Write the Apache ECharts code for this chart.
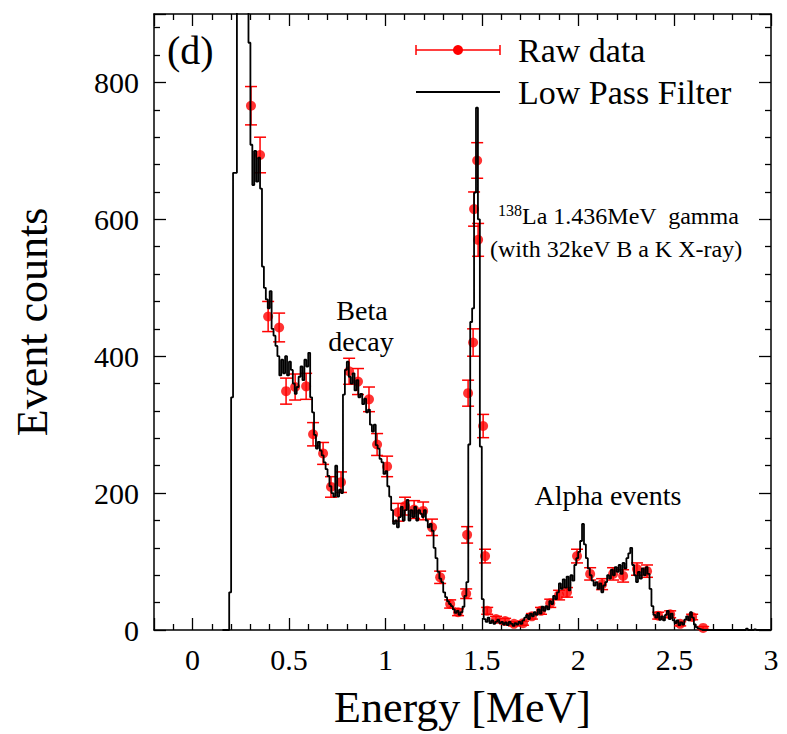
<!DOCTYPE html>
<html><head><meta charset="utf-8">
<script src="https://cdn.jsdelivr.net/npm/echarts@6/dist/echarts.min.js"></script>
<style>html,body{margin:0;padding:0;background:#fff}#c{width:787px;height:734px}</style>
</head><body><div id="c"></div>
<script>
// Low pass filter histogram: first bin lower edge and bin width (MeV)
const histStart = 0.15;
const binWidth = 0.01;
const filterCounts = [
  0,0,0,0,55,
  340,668,668,1000,1000,1000,1000,1000,1000,858,
  709,650,700,655,690,645,531,500,483,470,
  495,440,430,415,400,372,395,375,400,372,
  392,380,360,345,355,370,385,365,395,385,
  405,340,318,285,265,275,262,255,245,235,
  225,210,200,195,240,195,205,200,344,380,
  392,370,360,375,350,365,340,345,330,338,
  318,322,300,290,300,270,265,250,245,228,
  232,210,195,175,155,160,150,165,180,160,
  175,190,160,175,165,180,160,175,170,165,
  175,160,150,155,145,120,105,85,75,70,
  55,48,42,38,35,30,25,28,22,26,
  34,50,70,271,450,470,639,763,600,268,
  45,16,12,18,10,14,9,12,15,10,
  12,8,11,7,12,9,6,10,8,12,
  9,14,18,22,16,24,20,26,22,30,
  24,34,28,35,30,42,38,50,45,55,
  68,60,74,62,78,58,80,72,95,105,
  114,130,155,125,105,90,80,72,65,70,
  60,68,55,65,70,80,75,88,80,92,
  85,95,82,98,90,105,112,120,95,80,
  70,85,75,90,80,92,82,60,35,22,
  18,25,15,20,14,22,28,16,24,14,
  10,14,7,11,8,15,20,14,26,18,
  8,4,2,1,0,0,0,0,0,0,
  0,0,0,0,0,0,0,0,0,0,
  0,0,0,0,0,0,0,2,0,0,
  0,1,0,0,0,0,0,0,0,0
];

// Raw data points
const rawEnergy = [0.303,0.350,0.392,0.449,0.485,0.532,0.589,0.625,0.677,0.718,0.770,0.812,0.858,0.915,0.957,1.009,1.066,1.102,1.149,1.196,1.242,1.284,1.336,1.377,1.419,1.424,1.429,1.455,1.460,1.476,1.481,1.507,1.517,1.528,1.574,1.621,1.667,1.714,1.760,1.807,1.855,1.901,1.942,1.994,2.062,2.124,2.181,2.233,2.305,2.357,2.415,2.477,2.529,2.591,2.648];
const rawCounts = [766,694,458,442,349,355,356,286,258,209,216,378,363,337,271,239,172,181,176,174,150,77,38,26,53,139,346,420,615,686,570,298,108,28,16,13,9,10,20,28,39,51,55,108,82,67,82,79,89,86,21,23,9,19,3];
const rawErrors = [28,26,22,21,19,19,19,17,16,15,15,19,19,18,16,15,13,13,13,13,12,9,6,5,7,12,19,20,25,26,24,17,10,5,4,4,3,3,4,5,6,7,7,10,9,8,9,9,9,9,5,5,3,4,2];

const xMin = -0.2, xMax = 3.0, xStep = 0.5;
const yMin = 0, yMax = 900, yStep = 200;

const FONT = 'Liberation Serif';
const RED = '#ff0000';

const histData = filterCounts.map((v, i) => [+(histStart + binWidth * (i + 0.5)).toFixed(4), v]);
const rawData = rawEnergy.map((e, i) => [e, rawCounts[i], rawErrors[i]]);

function xAxisCfg(pos, showLabel) {
  return {
    type: 'value', position: pos, gridIndex: 0,
    min: xMin, max: xMax, minInterval: xStep, maxInterval: xStep, splitNumber: 6,
    axisLine: {show: true, onZero: false, lineStyle: {color: '#000', width: 1.5}},
    axisTick: {show: true, inside: true, length: 12, lineStyle: {color: '#000', width: 1.3}},
    minorTick: {show: true, splitNumber: 5, length: 6, lineStyle: {color: '#000', width: 1.3}},
    splitLine: {show: false}, minorSplitLine: {show: false},
    axisLabel: {
      show: showLabel, showMinLabel: false, fontFamily: FONT, fontSize: 30, color: '#000', margin: 14,
      formatter: v => (Math.abs(v / xStep - Math.round(v / xStep)) < 1e-6 ? String(+v.toFixed(2)) : '')
    },
    name: showLabel ? 'Energy [MeV]' : '', nameLocation: 'middle', nameGap: 55,
    nameTextStyle: {fontFamily: FONT, fontSize: 44, color: '#000'}
  };
}
function yAxisCfg(pos, showLabel) {
  return {
    type: 'value', position: pos, gridIndex: 0,
    min: yMin, max: yMax, interval: yStep,
    axisLine: {show: true, onZero: false, lineStyle: {color: '#000', width: 1.5}},
    axisTick: {show: true, inside: true, length: 12, lineStyle: {color: '#000', width: 1.3}},
    minorTick: {show: true, splitNumber: 5, length: 6, lineStyle: {color: '#000', width: 1.3}},
    splitLine: {show: false}, minorSplitLine: {show: false},
    axisLabel: {
      show: showLabel, showMaxLabel: false, fontFamily: FONT, fontSize: 30, color: '#000', margin: 15,
      formatter: v => (v % yStep === 0 ? String(v) : '')
    },
    name: showLabel ? 'Event counts' : '', nameLocation: 'middle', nameGap: 100, nameRotate: 90,
    nameTextStyle: {fontFamily: FONT, fontSize: 44, color: '#000'}
  };
}

const chart = echarts.init(document.getElementById('c'), null, {renderer: 'svg'});
chart.setOption({
  animation: false,
  backgroundColor: '#fff',
  grid: {left: 154, top: 14, width: 617, height: 617, containLabel: false},
  xAxis: [xAxisCfg('bottom', true), xAxisCfg('top', false)],
  yAxis: [yAxisCfg('left', true), yAxisCfg('right', false)],
  series: [
    {
      name: 'Raw data errors', type: 'custom', xAxisIndex: 0, yAxisIndex: 0, z: 3,
      data: rawData, encode: {x: 0, y: 1},
      renderItem: (params, api) => {
        const x = api.value(0), y = api.value(1), e = api.value(2);
        const t = api.coord([x, y + e]), b = api.coord([x, y - e]);
        const hw = 6;
        const st = {stroke: RED, lineWidth: 1.5, fill: null};
        return {type: 'group', children: [
          {type: 'line', shape: {x1: t[0], y1: t[1], x2: b[0], y2: b[1]}, style: st},
          {type: 'line', shape: {x1: t[0] - hw, y1: t[1], x2: t[0] + hw, y2: t[1]}, style: st},
          {type: 'line', shape: {x1: b[0] - hw, y1: b[1], x2: b[0] + hw, y2: b[1]}, style: st}
        ]};
      }
    },
    {
      name: 'Raw data', type: 'scatter', xAxisIndex: 0, yAxisIndex: 0, z: 4,
      data: rawData.map(d => [d[0], d[1]]), symbol: 'circle', symbolSize: 10,
      itemStyle: {color: RED}
    },
    {
      name: 'Low Pass Filter', type: 'line', xAxisIndex: 0, yAxisIndex: 0, z: 5,
      data: histData, step: 'middle', showSymbol: false, symbol: 'none', clip: true,
      lineStyle: {color: '#000', width: 1.8}
    }
  ],
  graphic: [
    {type: 'text', left: 167, top: 30, style: {text: '(d)', font: '40px "Liberation Serif"', fill: '#000'}},
    // legend
    {type: 'line', shape: {x1: 416, y1: 50, x2: 500, y2: 50}, style: {stroke: RED, lineWidth: 1.5}},
    {type: 'line', shape: {x1: 416, y1: 45, x2: 416, y2: 55}, style: {stroke: RED, lineWidth: 1.5}},
    {type: 'line', shape: {x1: 500, y1: 45, x2: 500, y2: 55}, style: {stroke: RED, lineWidth: 1.5}},
    {type: 'circle', shape: {cx: 458, cy: 50, r: 5}, style: {fill: RED}},
    {type: 'text', x: 518, y: 50, style: {text: 'Raw data', font: '34px "Liberation Serif"', fill: '#000', verticalAlign: 'middle'}},
    {type: 'line', shape: {x1: 416, y1: 92, x2: 500, y2: 92}, style: {stroke: '#000', lineWidth: 2}},
    {type: 'text', x: 518, y: 92, style: {text: 'Low Pass Filter', font: '34px "Liberation Serif"', fill: '#000', verticalAlign: 'middle'}},
    // annotations
    {type: 'text', x: 362, y: 310, style: {text: 'Beta', font: '28px "Liberation Serif"', fill: '#000', align: 'center', verticalAlign: 'middle'}},
    {type: 'text', x: 361, y: 341, style: {text: 'decay', font: '28px "Liberation Serif"', fill: '#000', align: 'center', verticalAlign: 'middle'}},
    {type: 'text', x: 608, y: 495, style: {text: 'Alpha events', font: '28px "Liberation Serif"', fill: '#000', align: 'center', verticalAlign: 'middle'}},
    {type: 'text', x: 498, y: 216, style: {
      text: '{sup|138}{main|La 1.436MeV  gamma}', verticalAlign: 'middle', fill: '#000',
      rich: {
        sup: {fontFamily: FONT, fontSize: 16, verticalAlign: 'top', padding: [0, 0, 12, 0], fill: '#000'},
        main: {fontFamily: FONT, fontSize: 24, fill: '#000'}
      }
    }},
    {type: 'text', x: 490, y: 249, style: {text: '(with 32keV B a K X-ray)', font: '24px "Liberation Serif"', fill: '#000', verticalAlign: 'middle'}}
  ]
});
</script>
</body></html>
